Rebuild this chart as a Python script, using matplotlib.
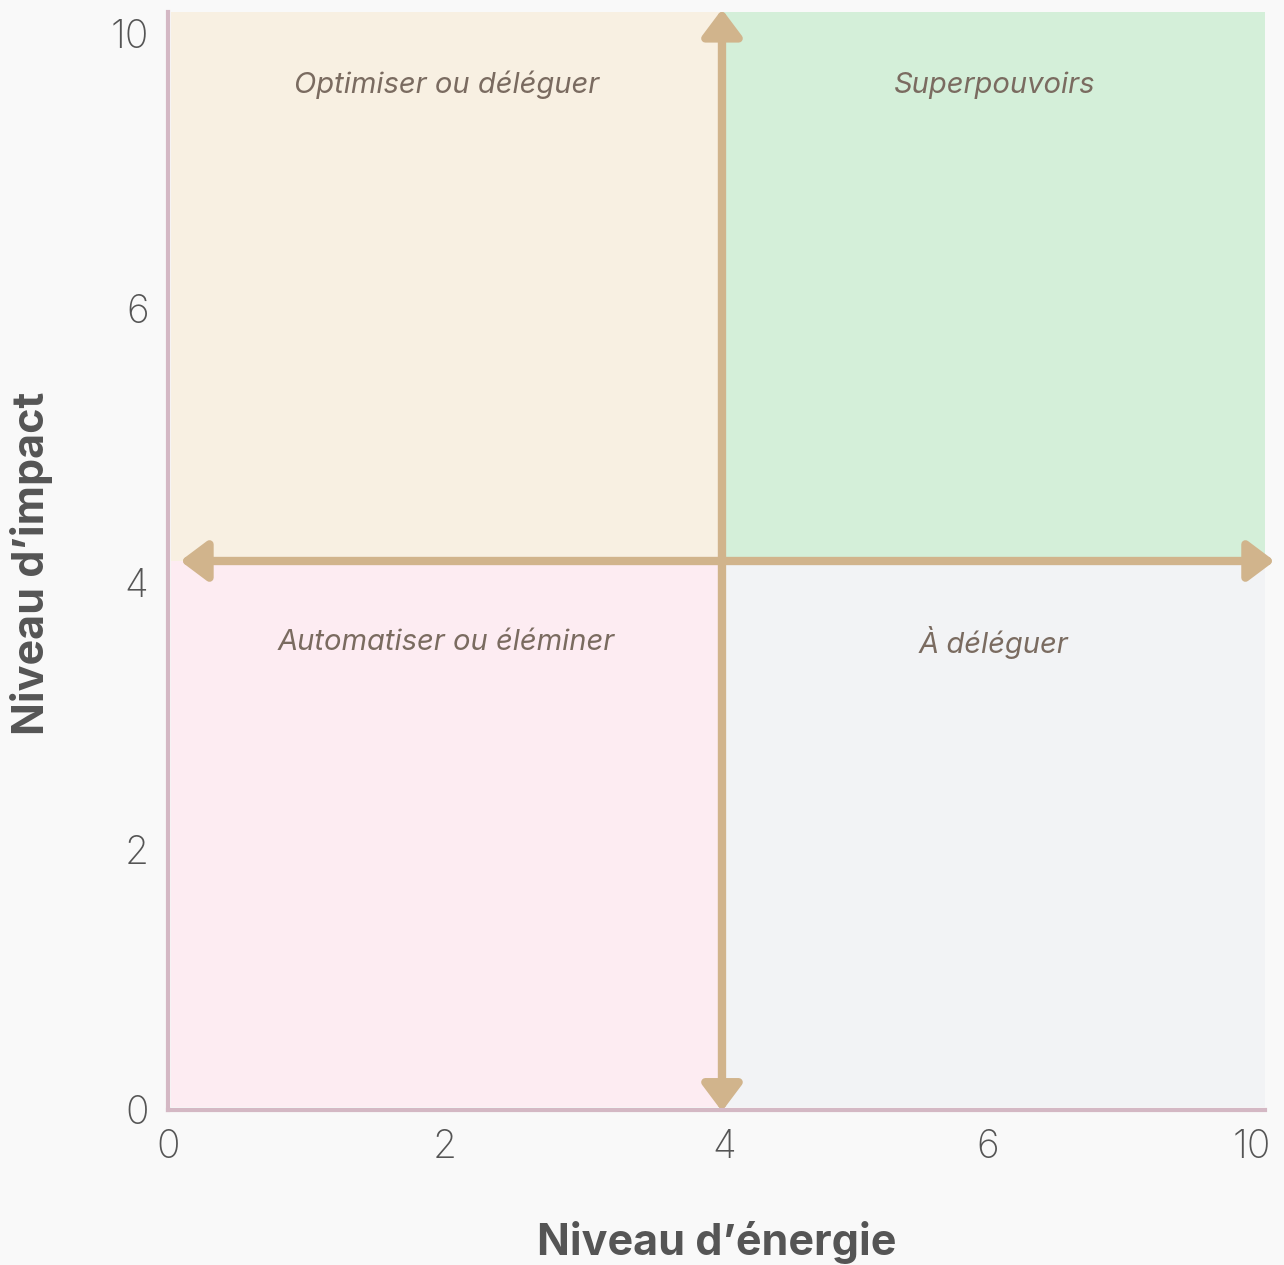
import numpy as np
import matplotlib.pyplot as plt
from matplotlib.patches import Rectangle

plt.rcParams['font.family'] = ['Inter', 'DejaVu Sans']

# tick labels on both axes (the scale is drawn as equal quarters)
x_labels = ['0', '2', '4', '6', '10']
y_labels = ['0', '2', '4', '6', '10']

# quadrants: (col, row, label, colour)
quad_names = ['Optimiser ou déléguer', 'Superpouvoirs', 'Automatiser ou éléminer', 'À déléguer']
quad_cols = [0, 1, 0, 1]
quad_rows = [1, 1, 0, 0]
quad_colors = ['#f8f0e2', '#d4efd9', '#fdecf2', '#f2f3f5']

x_title = 'Niveau d\u2019énergie'
y_title = 'Niveau d\u2019impact'

bg = '#f9f9f9'
spine_c = '#d4b8c4'
arrow_c = '#d1b48c'
text_c = '#7a6b60'
tick_c = '#555555'

fig = plt.figure(figsize=(12.84, 12.65), dpi=100, facecolor=bg)
ax = fig.add_axes([168 / 1284, 155 / 1265, 1097 / 1284, 1098 / 1265])
ax.set_facecolor(bg)
ax.set_xlim(0, 4)
ax.set_ylim(0, 4)

xs, ys = 2.02, 2.0   # quadrant split
gap = 0.012
for name, c, r, col in zip(quad_names, quad_cols, quad_rows, quad_colors):
    x0 = gap if c == 0 else xs
    x1 = xs if c == 0 else 4
    y0 = gap if r == 0 else ys
    y1 = ys if r == 0 else 4
    ax.add_patch(Rectangle((x0, y0), x1 - x0, y1 - y0, facecolor=col,
                           edgecolor='none', zorder=0))
    off = 0.255 if r == 1 else 0.285
    ax.text((x0 + x1) / 2, y1 - off, name, ha='center', va='center_baseline',
            fontsize=21, style='italic', color=text_c, zorder=3)

aprops = dict(arrowstyle='<|-|>,head_length=0.8,head_width=0.6', lw=6,
              color=arrow_c, shrinkA=0, shrinkB=0, mutation_scale=20,
              joinstyle='round', capstyle='round')
ax.annotate('', xy=(xs, 4.01), xytext=(xs, -0.005), arrowprops=aprops,
            annotation_clip=False, zorder=2)
ax.annotate('', xy=(4.035, ys), xytext=(0.045, ys), arrowprops=aprops,
            annotation_clip=False, zorder=2)

for s in ['top', 'right']:
    ax.spines[s].set_visible(False)
for s in ['left', 'bottom']:
    ax.spines[s].set_color(spine_c)
    ax.spines[s].set_linewidth(3)

ax.set_xticks([0, 1.01, 2.03, 2.99, 3.95])
ax.set_xticklabels(x_labels)
ax.set_yticks([0, 0.95, 1.92, 2.92, 3.92])
ax.set_yticklabels(y_labels)
ax.tick_params(length=0, labelsize=28, labelcolor=tick_c, pad=14)
for lab in ax.get_xticklabels() + ax.get_yticklabels():
    lab.set_fontweight('light')

fig.text(717 / 1284, 1 - 1243 / 1265, x_title, ha='center', va='center',
         fontsize=31, fontweight='bold', color=tick_c)
fig.text(32 / 1284, 1 - 563 / 1265, y_title, ha='center', va='center',
         rotation=90, fontsize=31, fontweight='bold', color=tick_c)

fig.savefig('out.png', dpi=100, facecolor=bg)
